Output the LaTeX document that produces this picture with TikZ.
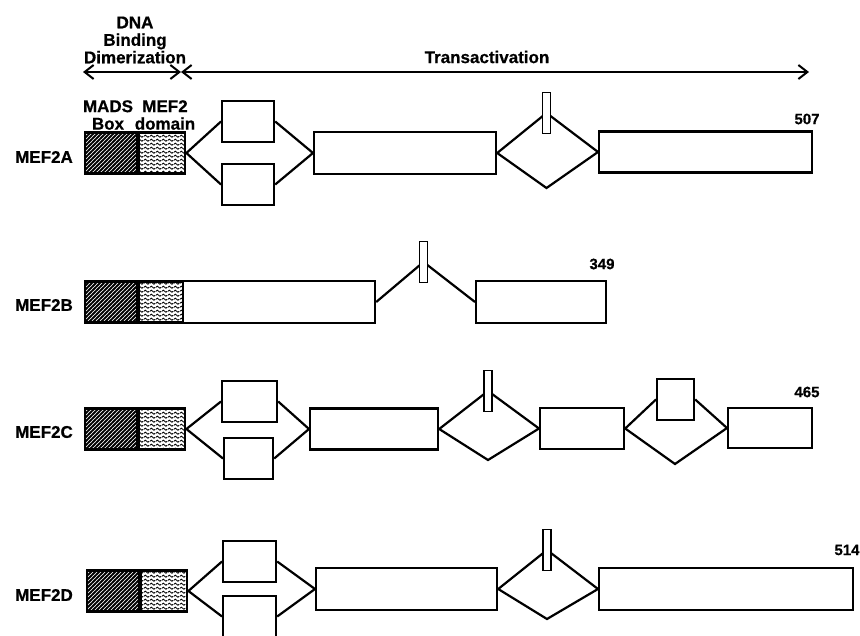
\documentclass[tikz,border=0pt]{standalone}
\usepackage{fontspec}
\setmainfont{Liberation Sans}[BoldFeatures={FakeBold=0.6}]
\usetikzlibrary{arrows.meta,positioning,patterns}
\pgfdeclarepatternformonly{hatch}{\pgfqpoint{-1pt}{-1pt}}{\pgfqpoint{5pt}{5pt}}{\pgfqpoint{4pt}{4pt}}{%
  \pgfsetlinewidth{2pt}
  \pgfpathmoveto{\pgfqpoint{0pt}{0pt}}
  \pgfpathlineto{\pgfqpoint{4.1pt}{4.1pt}}
  \pgfusepath{stroke}}
\pgfdeclarepatternformonly{waves}{\pgfqpoint{0pt}{0pt}}{\pgfqpoint{6pt}{4.2pt}}{\pgfqpoint{6pt}{4.2pt}}{%
  \pgfsetlinewidth{1pt}
  \pgfpathmoveto{\pgfqpoint{0pt}{2.1pt}}
  \pgfpathcurveto{\pgfqpoint{1pt}{3.7pt}}{\pgfqpoint{2pt}{3.7pt}}{\pgfqpoint{3pt}{2.1pt}}
  \pgfpathcurveto{\pgfqpoint{4pt}{0.5pt}}{\pgfqpoint{5pt}{0.5pt}}{\pgfqpoint{6pt}{2.1pt}}
  \pgfusepath{stroke}}
\tikzset{
  >={Straight Barb[length=9pt,width=14pt]},
  every node/.style={font=\bfseries\fontsize{17}{17.5}\selectfont,text=black},
  seg/.style={draw,line width=2.2pt,fill=white,minimum height=41pt,inner sep=0pt,anchor=west},
  madsbox/.style={seg,fill=none,pattern=hatch,minimum width=52pt},
  mefbox/.style={seg,fill=none,pattern=waves,minimum width=46pt},
  tickbox/.style={draw,line width=1.5pt,fill=white,minimum width=8pt,minimum height=41pt,inner sep=0pt},
  link/.style={line width=2.2pt},
  span/.style={<->,line width=2pt},
  lenlabel/.style={font=\bfseries\fontsize{15}{16}\selectfont},
  head/.style={align=center,inner sep=0pt},
}

\begin{document}
\begin{tikzpicture}[x=1pt,y=-1pt]
\useasboundingbox (0,0) rectangle (860,635);
% header
\node[head] (dbd) at (135,40) {DNA\\Binding\\Dimerization};
\node[head] (ta) at (487,57) {Transactivation};
\coordinate (l0) at (83,72);
\coordinate (l1) at (181,72);
\coordinate (r1) at (809,72);
\draw[span] (l0) -- (l1);
\draw[span] (l1) -- (r1);
\node[head] (madsl) at (108,115) {MADS\\Box};
\node[head] (mefl) at (165,115) {MEF2\\domain};

% MEF2A
\node (na) at (44,157) {MEF2A};
\node[madsbox] (a0) at (84,153) {};
\node[mefbox,anchor=west] (a1) at (a0.east) {};
\node[seg,minimum width=52pt] (a2) at (221,121.5) {};
\node[seg,minimum width=52pt] (a3) at (221,184.5) {};
\node[seg,minimum width=182pt,minimum height=42pt] (a4) at (313,153) {};
\node[seg,minimum width=213pt] (a5) at (598,152) {};
\coordinate (pa) at (546.5,113);
\coordinate (qa) at (546.5,188);
\draw[link] (a1.east) -- (a2.west) (a1.east) -- (a3.west);
\draw[link] (a2.east) -- (a4.west) (a3.east) -- (a4.west);
\draw[link] (a4.east) -- (pa) -- (a5.west) -- (qa) -- cycle;
\node[tickbox] (a6) at (pa) {};
\node[lenlabel] (la) at (807,119) {507};

% MEF2B
\node (nb) at (44,305) {MEF2B};
\node[madsbox] (b0) at (84,302) {};
\node[mefbox,anchor=west] (b1) at (b0.east) {};
\node[seg,minimum width=192pt,minimum height=42pt] (b2) at (182,302) {};
\node[seg,minimum width=130pt,minimum height=42pt] (b4) at (475,302) {};
\coordinate (pb) at (423.5,262);
\draw[link] (b2.east) -- (pb) -- (b4.west);
\node[tickbox] (b3) at (pb) {};
\node[lenlabel] (lb) at (602,264) {349};

% MEF2C
\node (nc) at (44,432) {MEF2C};
\node[madsbox] (c0) at (84,429) {};
\node[mefbox,anchor=west] (c1) at (c0.east) {};
\node[seg,minimum width=55pt] (c2) at (221,401.5) {};
\node[seg,minimum width=49pt] (c3) at (223,458.5) {};
\node[seg,minimum width=128pt] (c4) at (309,429) {};
\node[seg,minimum width=84pt] (c5) at (539,428.5) {};
\node[seg,minimum width=37pt] (c6) at (656,399.5) {};
\node[seg,minimum width=84pt,minimum height=40pt] (c7) at (727,428) {};
\coordinate (pc) at (488,391);
\coordinate (qc) at (488,460);
\coordinate (sc) at (675,464);
\draw[link] (c1.east) -- (c2.west) (c1.east) -- (c3.west);
\draw[link] (c2.east) -- (c4.west) (c3.east) -- (c4.west);
\draw[link] (c4.east) -- (pc) -- (c5.west) -- (qc) -- cycle;
\draw[link] (c5.east) -- (c6.west) (c6.east) -- (c7.west);
\draw[link] (c5.east) -- (sc) -- (c7.west);
\node[tickbox] (c8) at (pc) {};
\node[lenlabel] (lc) at (807,392) {465};

% MEF2D
\node (nd) at (44,595) {MEF2D};
\node[madsbox] (d0) at (86,591) {};
\node[mefbox,anchor=west] (d1) at (d0.east) {};
\node[seg,minimum width=53pt] (d2) at (222,561.5) {};
\node[seg,minimum width=53pt] (d3) at (222,616.5) {};
\node[seg,minimum width=181pt,minimum height=42pt] (d4) at (315,589) {};
\node[seg,minimum width=254pt,minimum height=42pt] (d5) at (598,589) {};
\coordinate (pd) at (547,550);
\coordinate (qd) at (547,619);
\draw[link] (d1.east) -- (d2.west) (d1.east) -- (d3.west);
\draw[link] (d2.east) -- (d4.west) (d3.east) -- (d4.west);
\draw[link] (d4.east) -- (pd) -- (d5.west) -- (qd) -- cycle;
\node[tickbox] (d6) at (pd) {};
\node[lenlabel] (ld) at (847,550) {514};
\end{tikzpicture}
\end{document}
